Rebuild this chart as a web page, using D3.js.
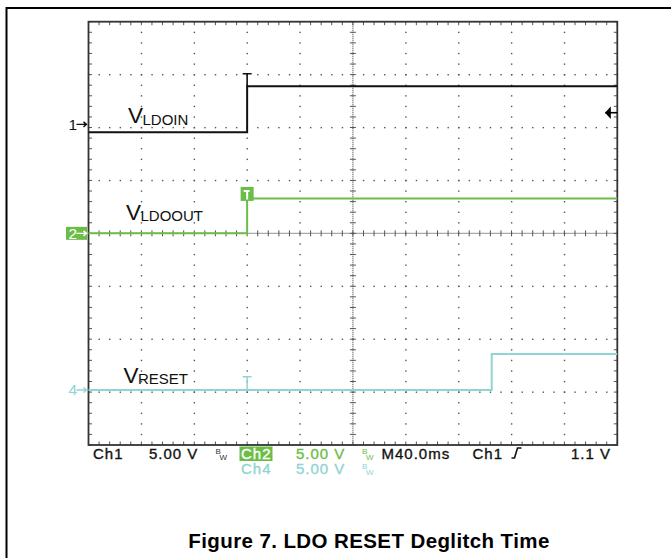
<!DOCTYPE html>
<html><head><meta charset="utf-8">
<script src="https://cdn.jsdelivr.net/npm/d3@7"></script>
<style>
html,body{margin:0;padding:0;background:#fff;}
svg{display:block;}
</style></head>
<body>
<script>
// ---------- data ----------
const timePerDivMs = 40;
const timeDomainMs = [-120, 280];          // 10 divisions, trigger at division 3
const voltsPerDiv = 5;

// Ch1: VLDOIN
const ldoinTimeMs = [-120, 0, 0, 280];
const ldoinVolts  = [-0.75, -0.75, 3.6, 3.6];
// Ch2: VLDOOUT
const ldooutTimeMs = [-120, 0, 0, 280];
const ldooutVolts  = [0, 0, 3.3, 3.3];
// Ch4: VRESET
const resetTimeMs = [-120, 185, 185, 280];
const resetVolts  = [0, 0, 3.4, 3.4];

const channelNames   = ["1", "2", "4"];
const channelOffsets = [2.06, 0, -2.96];   // ground marker position, divisions
const triggerLevelV  = 1.1;

const statusRow1 = ["Ch1", "5.00 V", "Ch2", "5.00 V", "M40.0ms", "Ch1", "1.1 V"];
const statusRow2 = ["Ch4", "5.00 V"];
const traceLabelMain = ["V", "V", "V"];
const traceLabelSub  = ["LDOIN", "LDOOUT", "RESET"];
const titleText = "Figure 7. LDO RESET Deglitch Time";

// ---------- styles ----------
const black = "#111", green = "#6cbd48", teal = "#90d4d3", gridCol = "#555";
const W = 671, H = 558;
const svg = d3.select("body").append("svg").attr("width", W).attr("height", H);

// outer frame
svg.append("path").attr("d", `M671,8 H6.5 V558`).attr("fill","none").attr("stroke","#000").attr("stroke-width",2);

const plot = {left: 88.5, right: 617.3, top: 21.7, bottom: 445};
const xDiv = d3.scaleLinear().domain([0,10]).range([plot.left, plot.right]);
const yDiv = d3.scaleLinear().domain([-4,4]).range([plot.bottom, plot.top]);
const xT = d3.scaleLinear().domain(timeDomainMs).range([plot.left, plot.right]);
const yV = (ch, v) => yDiv(channelOffsets[ch] + v / voltsPerDiv);

const g = svg.append("g");

// grid dots every 1/5 division along each grid line
const minor = d3.range(0, 51).map(i => i/5);
const minorY = d3.range(0, 41).map(i => i/5 - 4);
for (let k = 1; k < 10; k++) {
  if (k === 5) continue;
  g.selectAll(null).data(minorY).enter().append("rect")
    .attr("x", xDiv(k)-0.6).attr("y", d => yDiv(d)-0.6).attr("width",1.4).attr("height",1.4).attr("fill", gridCol);
}
for (let k = -3; k < 4; k++) {
  if (k === 0) continue;
  g.selectAll(null).data(minor).enter().append("rect")
    .attr("x", d => xDiv(d)-0.6).attr("y", yDiv(k)-0.6).attr("width",1.4).attr("height",1.4).attr("fill", gridCol);
}
// center lines (dense dotted) with ticks
g.append("line").attr("x1", plot.left).attr("x2", plot.right).attr("y1", yDiv(0)).attr("y2", yDiv(0))
  .attr("stroke", gridCol).attr("stroke-width",1.2).attr("stroke-dasharray","1,1");
g.append("line").attr("x1", xDiv(5)).attr("x2", xDiv(5)).attr("y1", plot.top).attr("y2", plot.bottom)
  .attr("stroke", gridCol).attr("stroke-width",1.2).attr("stroke-dasharray","1,1");
g.selectAll(null).data(minor).enter().append("line")
  .attr("x1", d => xDiv(d)).attr("x2", d => xDiv(d)).attr("y1", yDiv(0)-3).attr("y2", yDiv(0)+3)
  .attr("stroke", gridCol).attr("stroke-width",1);
g.selectAll(null).data(minorY).enter().append("line")
  .attr("y1", d => yDiv(d)).attr("y2", d => yDiv(d)).attr("x1", xDiv(5)-3).attr("x2", xDiv(5)+3)
  .attr("stroke", gridCol).attr("stroke-width",1);
// border ticks
g.selectAll(null).data(minor).enter().append("line")
  .attr("x1", d => xDiv(d)).attr("x2", d => xDiv(d)).attr("y1", plot.top).attr("y2", plot.top+3.5)
  .attr("stroke", gridCol).attr("stroke-width",1);
g.selectAll(null).data(minor).enter().append("line")
  .attr("x1", d => xDiv(d)).attr("x2", d => xDiv(d)).attr("y1", plot.bottom).attr("y2", plot.bottom-3.5)
  .attr("stroke", gridCol).attr("stroke-width",1);
g.selectAll(null).data(minorY).enter().append("line")
  .attr("y1", d => yDiv(d)).attr("y2", d => yDiv(d)).attr("x1", plot.left).attr("x2", plot.left+3.5)
  .attr("stroke", gridCol).attr("stroke-width",1);
g.selectAll(null).data(minorY).enter().append("line")
  .attr("y1", d => yDiv(d)).attr("y2", d => yDiv(d)).attr("x1", plot.right).attr("x2", plot.right-3.5)
  .attr("stroke", gridCol).attr("stroke-width",1);
// plot border
g.append("rect").attr("x", plot.left).attr("y", plot.top).attr("width", plot.right-plot.left).attr("height", plot.bottom-plot.top)
  .attr("fill","none").attr("stroke","#333").attr("stroke-width",1.8);

// ---------- traces ----------
const traces = [
  {t: ldoinTimeMs, v: ldoinVolts, ch: 0, col: black},
  {t: ldooutTimeMs, v: ldooutVolts, ch: 1, col: green},
  {t: resetTimeMs, v: resetVolts, ch: 2, col: teal},
];
traces.forEach(tr => {
  const line = d3.line().x((d,i) => xT(tr.t[i])).y(d => yV(tr.ch, d));
  svg.append("path").attr("d", line(tr.v)).attr("fill","none").attr("stroke", tr.col).attr("stroke-width",2);
});

// trigger T markers
const tx = xT(0);
svg.append("path").attr("d", `M${tx-4.5},${yV(0,ldoinVolts[2])-12.5} h9 M${tx},${yV(0,ldoinVolts[2])-12.5} V${yV(0,ldoinVolts[2])}`)
  .attr("stroke", black).attr("stroke-width",1.6).attr("fill","none");
svg.append("rect").attr("x", tx-6.5).attr("y", yV(1,ldooutVolts[2])-11.5).attr("width",13).attr("height",14).attr("fill", green);
svg.append("path").attr("d", `M${tx-3.5},${yV(1,ldooutVolts[2])-7.5} h6 M${tx},${yV(1,ldooutVolts[2])-7.5} V${yV(1,ldooutVolts[2])+1}`)
  .attr("stroke", "#fff").attr("stroke-width",2).attr("fill","none");
svg.append("path").attr("d", `M${tx-4.5},${yV(2,0)-13.3} h9 M${tx},${yV(2,0)-13.3} V${yV(2,0)}`)
  .attr("stroke", teal).attr("stroke-width",1.5).attr("fill","none");

// trigger level marker (right)
const ty = yV(0, triggerLevelV);
svg.append("path").attr("d", `M${plot.right-12.3},${ty} L${plot.right-6.5},${ty-6.3} L${plot.right-6.5},${ty+6.3} Z`).attr("fill","#000");
svg.append("line").attr("x1", plot.right-12).attr("x2", plot.right).attr("y1", ty).attr("y2", ty).attr("stroke","#000").attr("stroke-width",1.6);

// channel ground markers
const markerCols = [black, "#fff", teal];
channelNames.forEach((name, i) => {
  const y = yDiv(channelOffsets[i]);
  if (i === 1) {
    svg.append("rect").attr("x", 66).attr("y", y-6.5).attr("width", 21).attr("height", 13).attr("fill", green);
  }
  svg.append("text").attr("x", 68.5).attr("y", y+5.5).text(name)
    .attr("font-family","Liberation Sans, Arial, sans-serif").attr("font-size",15.5).attr("fill", markerCols[i]);
  svg.append("path").attr("d", `M76.5,${y} H86.5 M83.5,${y-2.5} L86.5,${y} L83.5,${y+2.5}`)
    .attr("stroke", markerCols[i]).attr("stroke-width",1.4).attr("fill","none");
});

// trace labels
const labelPos = [[128, 123.3], [126, 219.5], [123.5, 382.7]];
traceLabelMain.forEach((m, i) => {
  const t = svg.append("text").attr("x", labelPos[i][0]).attr("y", labelPos[i][1])
    .attr("font-family","Liberation Sans, Arial, sans-serif").attr("fill","#111");
  t.append("tspan").attr("font-size",22.5).text(m);
  t.append("tspan").attr("font-size",15).attr("dy",1.3).attr("dx",-0.5).text(traceLabelSub[i]);
});

// ---------- status bar ----------
const sFont = "Liberation Sans, Arial, sans-serif";
function sText(x, y, s, col, anchor) {
  return svg.append("text").attr("x", x).attr("y", y).text(s).attr("font-family", sFont).attr("font-size", 15)
    .attr("letter-spacing", "1px").attr("fill", col).attr("stroke", col).attr("stroke-width", 0.35)
    .attr("text-anchor", anchor || "start");
}
function bw(x, y, col) {
  svg.append("text").attr("x", x).attr("y", y-5).text("B").attr("font-family", sFont).attr("font-size", 8).attr("fill", col);
  svg.append("text").attr("x", x+4).attr("y", y+1).text("W").attr("font-family", sFont).attr("font-size", 8).attr("fill", col);
}
const r1 = 458.5, r2 = 474;
sText(93, r1, statusRow1[0], black);
sText(149, r1, statusRow1[1], black);
bw(215.5, r1, "#333");
svg.append("rect").attr("x", 239.5).attr("y", 446.5).attr("width", 33).attr("height", 14.5).attr("fill", green);
sText(241, r1, statusRow1[2], "#fff");
sText(296, r1, statusRow1[3], green);
bw(362, r1, green);
sText(381.5, r1, statusRow1[4], black);
sText(472.5, r1, statusRow1[5], black);
svg.append("path").attr("d", `M511.5,${r1-0.5} h3 l3,-10 h4`).attr("stroke", black).attr("stroke-width",1.6).attr("fill","none");
sText(611, r1, statusRow1[6], black, "end");
sText(241, r2, statusRow2[0], teal);
sText(296, r2, statusRow2[1], teal);
bw(362, r2, teal);

// title
svg.append("text").attr("x", 369).attr("y", 548.3).attr("text-anchor","middle")
  .attr("font-family", "Liberation Sans, Arial, sans-serif").attr("font-weight","bold").attr("font-size", 20.5)
  .attr("letter-spacing","0.4px").attr("fill","#000").text(titleText);
</script>
</body></html>
